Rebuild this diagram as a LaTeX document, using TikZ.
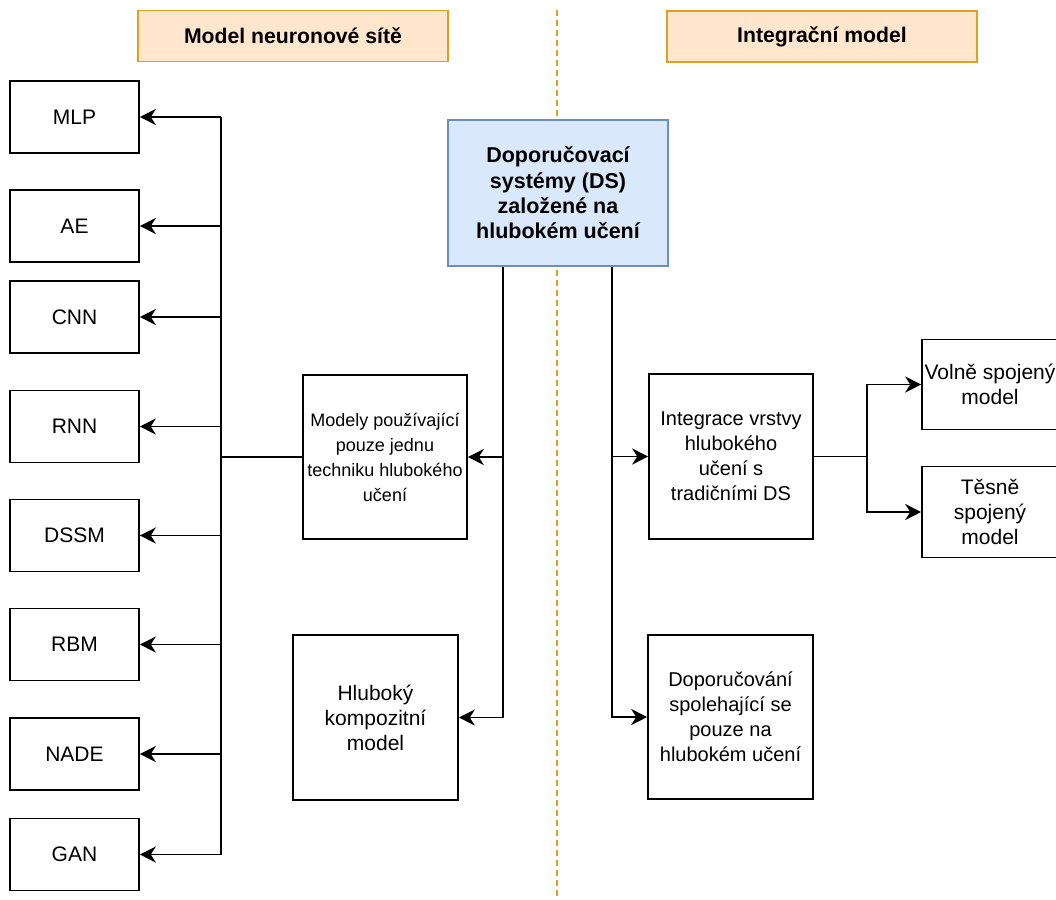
\documentclass[tikz,border=0pt]{standalone}
\usepackage{fontspec}
\setmainfont{Liberation Sans}
\usetikzlibrary{arrows.meta}
\definecolor{hdrfill}{HTML}{FFE6CC}
\definecolor{hdrline}{HTML}{DEA01E}
\definecolor{bluefill}{HTML}{DAE8FC}
\definecolor{blueline}{HTML}{6C8EBF}
\begin{document}
\begin{tikzpicture}[x=1pt,y=-1pt,
  box/.style={draw=black, line width=1.6pt, align=center, inner sep=0pt, font=\fontsize{20}{25}\selectfont},
  lbox/.style={box, minimum width=129pt, minimum height=72pt, font=\fontsize{21}{25}\selectfont},
  bigbox/.style={box, minimum width=165pt, minimum height=165pt},
  hdr/.style={draw=hdrline, fill=hdrfill, line width=1.6pt, minimum width=310pt, minimum height=51pt, font=\fontsize{21.2}{25}\selectfont\bfseries},
  conn/.style={line width=1.8pt},
  arr/.style={conn, -{Stealth[length=16pt,width=16pt,inset=5pt]}},
]
\useasboundingbox (0,0) rectangle (1056,899);
\fill[white] (0,0) rectangle (1056,899);
% divider
\draw[hdrline, line width=1.6pt, dash pattern=on 6pt off 4pt] (557,10) -- (557,897);
% headers
\node[hdr] (h1) at (293,36) {Model neuronové sítě};
\node[hdr] (h2) at (822,36.5) {Integrační model};
% central box
\node[box, fill=bluefill, draw=blueline, minimum width=220pt, minimum height=146pt,
      font=\fontsize{21.5}{25.3}\selectfont\bfseries] (ds) at (558,193)
      {Doporučovací\\systémy (DS)\\založené na\\hlubokém učení};
% left column
\foreach \n/\t/\y in {mlp/MLP/117, ae/AE/226, cnn/CNN/317, rnn/RNN/426.5,
                      dssm/DSSM/535.5, rbm/RBM/644.5, nade/NADE/754, gan/GAN/854.5}
  \node[lbox] (\n) at (74.5,\y) {\t};
% middle-left boxes
\node[bigbox, minimum width=164pt, minimum height=164pt, font=\fontsize{18}{25}\selectfont] (single) at (385,457)
  {Modely používající\\pouze jednu\\techniku hlubokého\\učení};
\node[bigbox, font=\fontsize{21}{25}\selectfont] (comp) at (375.5,717.5) {Hluboký\\kompozitní\\model};
% middle-right boxes
\node[bigbox, minimum width=164pt] (integ) at (731,456.5) {Integrace vrstvy\\hlubokého\\učení s\\tradičními DS};
\node[bigbox, minimum height=164pt] (dop) at (730.5,717) {Doporučování\\spolehající se\\pouze na\\hlubokém učení};
% right boxes
\node[box, minimum width=136pt, minimum height=90pt, font=\fontsize{21}{25}\selectfont] (volne) at (990,384.5) {Volně spojený\\model};
\node[box, minimum width=136pt, minimum height=91pt, font=\fontsize{21}{25}\selectfont] (tesne) at (990,512) {Těsně\\spojený\\model};
% left bus
\coordinate (vl) at (221,0);
\draw[conn] (vl |- mlp.east) -- (vl |- gan.east);
\foreach \n in {mlp, ae, cnn, rnn, dssm, rbm, nade, gan}
  \draw[arr] (vl |- \n.east) -- (\n.east);
\draw[conn] (single.west) -- (vl |- single.west);
% from central box, left branch
\coordinate (jl) at (503,0);
\draw[arr] (jl |- ds.south) |- (comp.east);
\draw[arr] (jl |- single.east) -- (single.east);
% from central box, right branch
\coordinate (jr) at (612,0);
\draw[arr] (jr |- ds.south) |- (dop.west);
\draw[arr] (jr |- integ.west) -- (integ.west);
% integration split
\coordinate (jb) at (867,0);
\draw[conn] (integ.east) -- (jb |- integ.east);
\draw[arr] (jb |- integ.east) |- (volne.west);
\draw[arr] (jb |- integ.east) |- (tesne.west);
\end{tikzpicture}
\end{document}
